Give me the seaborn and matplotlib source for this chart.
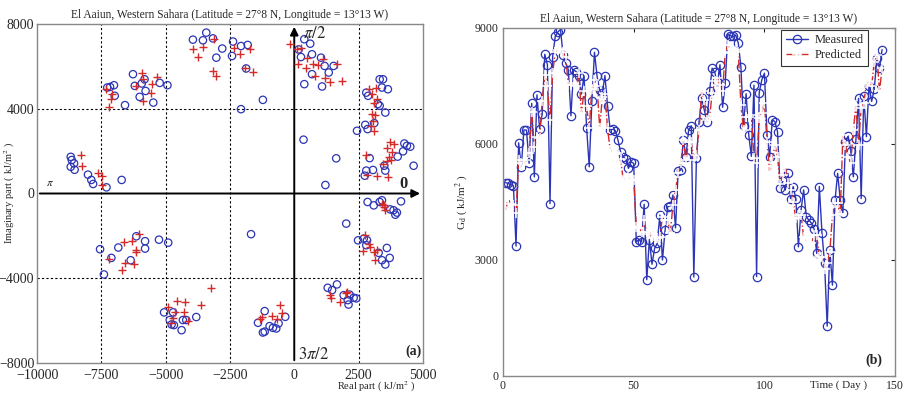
import matplotlib
matplotlib.use('Agg')
import matplotlib.pyplot as plt
import seaborn as sns
import pandas as pd

sns.set_style('white')
plt.rcParams['font.family'] = ['Liberation Serif', 'DejaVu Serif']
plt.rcParams['mathtext.fontset'] = 'stix'

titulo = 'El Aaiun, Western Sahara (Latitude = 27°8 N, Longitude = 13°13 W)'

# Painel (a): parte real / imaginaria
med_re = [-8690, -8650, -8690, -8540, -8560, -8020, -7890, -7820, -7300, -6710,
          -7270, -7160, -7010, -6270, -6200, -5930, -5820, -5780, -6010, -5480, -5230, -4930, -6580, -6980,
          -3940, -3550, -3420, -3160, -2800, -3030,
          -2380, -2070, -1810, -2420, -1870, -1220, -2070,
          390, 620, 170, 260, 690, 1040, 1180, 1340, 1530, 690, 390, 1080, 360, 1630, 1210,
          3320, 3450, 3410, 3640, 2800, 2870, 3250, 3320, 3540, 2760, 3110, 2850, 2440,
          4280, 4380, 4510, 4230, 4020, 4640, 2930, 2800, 3060, 3540, 2740, 3500,
          -7550, -7400, -7110, -6840, -6360, -6140, -5800, -5800, -5260, -4900,
          -5060, -4710, -4840, -4770, -4680, -4330, -4200, -4380, -3810,
          -1680, 2850, 3090, 3320, 3410, 3730, 3860, 3930, 3990, 4150, 2020,
          2480, 2700, 2830, 2800, 3600, 3280, 3410, 3710, 3540,
          1300, 1470, 1660, 1920, 2150, 2310, 2410, 2080, 2110,
          -1410, -1220, -1150, -1150, -960, -830, -700, -610, -350]
med_im = [1730, 1580, 1260, 1120, 1420, 890, 640, 450, 290, 640,
          5000, 5030, 5110, 5630, 5080, 5190, 5390, 4840, 4560, 4290, 5220, 5110, 4170, 4610,
          7260, 7230, 7590, 7320, 6840, 6410,
          7170, 6960, 7010, 6490, 5900, 4420, 3980,
          7280, 7070, 6800, 6440, 6570, 6410, 6020, 5710, 6020, 5630, 5160, 5050, 2540, 1660, 400,
          5390, 5390, 5000, 4920, 4760, 4610, 4220, 4140, 3820, 3240, 3320, 3040, 2960,
          2360, 2250, 2210, 1990, 1740, 1310, 1670, 1080, 1110, 1080, 840, 1310,
          -2630, -3820, -3040, -2550, -3150, -2020, -2250, -2600, -2180, -2320,
          -5610, -5610, -5970, -6180, -6210, -5970, -5970, -6450, -5830,
          -1920, -400, -560, -400, -320, -750, -790, -1000, -900, -370, -1420,
          -2210, -2130, -2210, -2440, -2570, -2800, -3150, -3040, -3350,
          -4450, -4560, -4290, -4800, -4770, -4920, -4950, -5030, -5240,
          -6100, -6560, -6520, -5550, -6260, -6340, -6370, -6130, -5820]

prev_re = [-8300, -8260, -7620, -7460, -7460, -7330, -7070, -7140, -7200, -5930, -5870, -5350, -5520, -5580, -5870, -6170,
           -3940, -3730, -3550, -3120, -3150, -3030,
           -180, -2330, -2120, -1710, -1900, -1610, 110, 260, 490, 140, 470, 730, 910, 1120, 820, 1210, 1400, 1660, 1850,
           3190, 2890, 3020, 3220, 3090, 3020, 3150, 3060, 2980, 3090,
           3730, 3600, 3860, 3800, 3670, 3600, 3760, 3450, 2800, 2830, 3220, 3640,
           -6040, -6290, -6620, -6170, -6140, -7200, -6590, -6230, -6710,
           -3220, -4570, -4250, -3640, -4900, -4640, -4290, -4700, -4800, -4130,
           3410, 3480, 3540, 3500, 2760, 2670, 2890, 2960, 3090, 3220, 3130,
           1380, 1440, 1790, 2050, 2000,
           -570, -480, -870, -1350, -1250, -670]
prev_im = [1810, 1310, 970, 840, 400, 4920, 4690, 4450, 4060, 5710, 5390, 5500, 5190, 4760, 4370, 5080,
           6810, 6460, 6930, 7280, 5790, 5550,
           7040, 6850, 6600, 6810, 5940, 5740, 6810, 6850, 6410, 6100, 5940, 6130, 6070, 6340, 5550, 5470, 5240, 6130, 5310,
           5000, 4920, 4690, 4450, 4290, 3740, 3710, 3430, 3200, 2930,
           2410, 2170, 2330, 1940, 1700, 1550, 1580, 1390, 1810, 890, 840, 790,
           -1890, -2250, -2280, -2680, -2760, -3070, -3260, -3310, -3620,
           -4450, -5060, -5140, -5270, -5350, -5580, -5580, -5860, -6130, -6020,
           -480, -640, -790, -560, -1940, -2720, -2360, -2520, -2760, -2680, -3150,
           -4800, -4950, -5110, -4640, -4700,
           -5270, -5660, -5770, -5900, -5850, -5900]

# Painel (b): serie diaria
dias = list(range(1, 146))
medido = [5000, 4980, 4950, 4920, 3360, 6030, 5410, 6360, 6360, 5500,
          7050, 5150, 7270, 6400, 6770, 8320, 8050, 4460, 8260, 8780,
          8900, 8960, 8300, 8090, 7920, 6730, 7920, 7870, 7750, 7290,
          7760, 6410, 5410, 7100, 8370, 7750, 7390, 7310, 7770, 6990,
          6370, 6390, 6340, 6100, 5800, 5670, 5600, 5370, 5540, 5500,
          3470, 3530, 3470, 4440, 2490, 3530, 2890, 3300, 3430, 4160,
          3000, 3770, 4380, 4400, 4680, 3830, 5300, 5320, 6100, 5670,
          6360, 6470, 2560, 5650, 6580, 7180, 6880, 6580, 7360, 7960,
          7850, 7620, 8050, 6950, 7570, 8840, 8800, 8780, 8820, 8610,
          8000, 6470, 7300, 6230, 5680, 7520, 2570, 7330, 7660, 7830,
          6230, 5670, 6620, 6580, 6320, 4850, 5030, 4810, 5240, 4590,
          4900, 4590, 3340, 4290, 4810, 4120, 4030, 3950, 3800, 3170,
          4900, 3700, 2910, 1290, 3260, 2350, 4550, 5240, 4550, 4220,
          6060, 6210, 5830, 5150, 6120, 7180, 4590, 7230, 6190, 7510,
          7100, 7420, 8220, 7960, 8440]
previsto = [4270, 4590, 4460, 4420, 4220, 5590, 5500, 5450, 5590, 5760,
            6840, 5930, 6190, 6150, 7100, 7790, 7490, 6620, 7830, 8390,
            8440, 8450, 8370, 8260, 7530, 7530, 7570, 7500, 7830, 6800,
            7360, 6970, 6420, 7420, 7650, 7500, 6410, 7210, 7290, 6410,
            5850, 5800, 5740, 5760, 5600, 5070, 5110, 5150, 5070, 5070,
            3860, 3820, 3730, 4030, 3670, 3730, 3600, 3510, 3560, 3600,
            4120, 4030, 4030, 3690, 4420, 4810, 5240, 5500, 6100, 5590,
            6050, 6050, 5580, 5710, 6360, 7360, 7140, 6620, 6670, 7310,
            7620, 7700, 7530, 7360, 8350, 8570, 8390, 8420, 8420, 8390,
            7010, 6360, 6710, 6710, 6750, 5630, 5500, 6670, 6800, 7060,
            6050, 5280, 5540, 5970, 5670, 4970, 5200, 5410, 4980, 4810,
            4510, 4080, 4160, 4160, 3600, 3470, 3470, 3450, 3640, 3640,
            3080, 3080, 2780, 2910, 3210, 4160, 4470, 4470, 4180, 6230,
            5970, 5670, 5500, 6360, 7010, 5970, 6930, 7060, 7570, 7620,
            7490, 8130, 8310, 7360, 7960]

azul = '#2b35b5'
vermelho = '#d42a2a'

fig = plt.figure(figsize=(9.1, 3.97), dpi=100)
ax1 = fig.add_axes([0.0407, 0.0856, 0.424, 0.854])
ax2 = fig.add_axes([0.5527, 0.0529, 0.431, 0.8766])

# ---------- (a)
sns.scatterplot(x=med_re, y=med_im, ax=ax1, marker='o', s=28, facecolor='none',
                edgecolor=azul, linewidth=0.9, zorder=3)
sns.scatterplot(x=prev_re, y=prev_im, ax=ax1, marker='+', s=40, color=vermelho,
                linewidth=1.0, zorder=4)
ax1.set_xlim(-10000, 5000)
ax1.set_ylim(-8000, 8000)
ax1.set_xticks([-10000, -7500, -5000, -2500, 0, 2500, 5000])
ax1.set_yticks([-8000, -4000, 0, 4000, 8000])
for xv in [-7500, -5000, -2500, 2500]:
    ax1.axvline(xv, color='black', ls=(0, (2, 2)), lw=0.8, zorder=1)
for yv in [-4000, 4000]:
    ax1.axhline(yv, color='black', ls=(0, (2, 2)), lw=0.8, zorder=1)
ax1.annotate('', xy=(5000, 0), xytext=(-10000, 0),
             arrowprops=dict(arrowstyle='-|>', color='black', lw=1.4, mutation_scale=12), zorder=2)
ax1.annotate('', xy=(0, 8000), xytext=(0, -8000),
             arrowprops=dict(arrowstyle='-|>', color='black', lw=1.4, mutation_scale=12), zorder=2)
ax1.text(350, 7550, r'$\pi/2$', fontsize=12, va='center')
ax1.text(-9650, 450, r'$\pi$', fontsize=8, va='center')
ax1.text(4100, 450, '0', fontsize=12, fontweight='bold', va='center')
ax1.text(130, -7600, r'$3\pi/2$', fontsize=12, va='center')
ax1.text(4650, -7450, '(a)', fontsize=10, fontweight='bold', va='center', ha='center')
ax1.set_title(titulo, fontsize=8.3, pad=4)
ax1.set_xlabel('Real part ( kJ/m$^2$ )', fontsize=7.5)
ax1.xaxis.set_label_coords(0.88, -0.05)
ax1.set_ylabel('Imaginary part ( kJ/m$^2$ )', fontsize=7.5)
ax1.yaxis.set_label_coords(-0.052, 0.5)
ax1.tick_params(labelsize=10, length=0)
ax1.tick_params(axis='x', pad=4)
ax1.tick_params(axis='y', pad=2)

# ---------- (b)
sns.lineplot(x=dias, y=medido, ax=ax2, color=azul, lw=1.0, marker='o', markersize=6,
             markerfacecolor='none', markeredgecolor=azul, markeredgewidth=0.9, label='Measured')
sns.lineplot(x=dias, y=previsto, ax=ax2, color=vermelho, lw=1.0, ls='-.', marker='+',
             markersize=7, markeredgewidth=1.1, label='Predicted')
ax2.set_xlim(0, 150)
ax2.set_ylim(0, 9000)
ax2.set_xticks([0, 50, 100, 150])
ax2.set_yticks([0, 3000, 6000, 9000])
ax2.tick_params(direction='in', top=True, right=True, length=3, labelsize=8.5, pad=3)
ax2.set_title(titulo, fontsize=8.3, pad=4)
ax2.set_xlabel('Time ( Day )', fontsize=8)
ax2.xaxis.set_label_coords(0.855, -0.012)
ax2.set_ylabel('G$_\\mathrm{d}$ ( kJ/m$^2$ )', fontsize=8)
ax2.yaxis.set_label_coords(-0.084, 0.5)
ax2.text(142, 400, '(b)', fontsize=10, fontweight='bold', ha='center', va='center')
leg = ax2.legend(loc='upper right', bbox_to_anchor=(0.935, 1.0), fontsize=9, frameon=True,
                 fancybox=False, borderpad=0.35, labelspacing=0.25, handlelength=1.8,
                 handletextpad=0.5, borderaxespad=0.15)
leg.get_frame().set_edgecolor('black')
leg.get_frame().set_linewidth(0.8)

for ax in (ax1, ax2):
    for s in ax.spines.values():
        s.set_color('#888888')
        s.set_linewidth(1.0)

fig.savefig('out.png', dpi=100)
